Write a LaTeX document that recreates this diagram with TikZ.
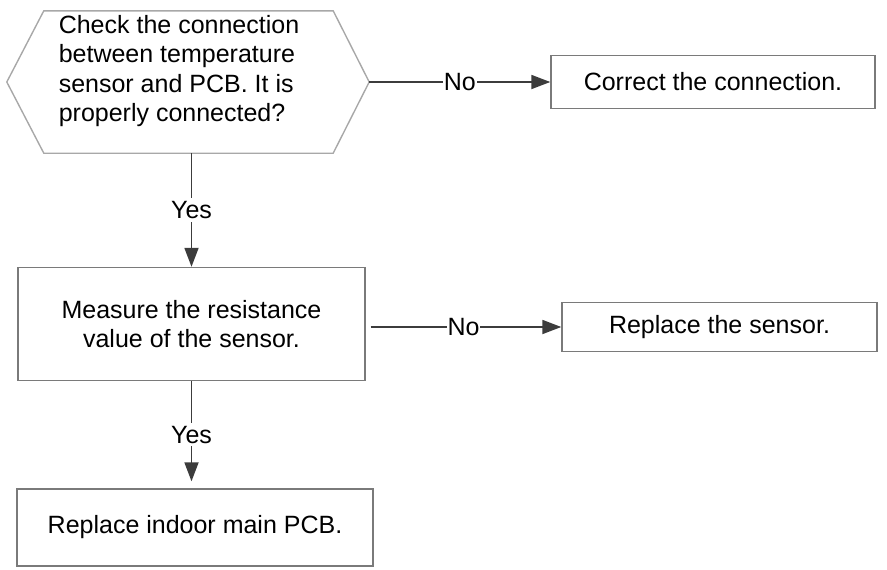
\documentclass[tikz,border=0pt]{standalone}
\usepackage{fontspec}
\setmainfont{Liberation Sans}
\usetikzlibrary{arrows.meta}
\definecolor{boxgray}{HTML}{7A7A7A}
\definecolor{hexgray}{HTML}{A8A8A8}
\definecolor{arrowgray}{HTML}{3C3C3C}
\begin{document}
\begin{tikzpicture}[x=1pt,y=-1pt,
  font=\fontsize{25}{29.5}\selectfont,
  stepbox/.style={draw=boxgray,line width=1.4pt,inner sep=0pt,align=center},
  flow/.style={arrowgray,line width=1.8pt,-{Triangle[length=19pt,width=14pt]}},
  answer/.style={fill=white,text=black,inner sep=1pt}]
\useasboundingbox (0,0) rectangle (887,570);

%decision
\node[minimum width=362pt,minimum height=142pt,inner sep=0pt] (check) at (188,82) {};
\draw[hexgray,line width=1.4pt] (check.west) -- ([xshift=37pt]check.north west) -- ([xshift=-36pt]check.north east) -- (check.east) -- ([xshift=-36pt]check.south east) -- ([xshift=37pt]check.south west) -- cycle;
\node[align=left,inner sep=0pt] (checktext) at (179,71) {Check the connection\\between temperature\\sensor and PCB. It is\\properly connected?};

%actions
\node[stepbox,minimum width=324pt,minimum height=53pt] (connect) at (713,82) {Correct the connection.};
\node[stepbox,minimum width=347pt,minimum height=113pt] (measure) at (191.5,324) {Measure the resistance\\value of the sensor.};
\node[stepbox,minimum width=315pt,minimum height=49pt] (sensor) at (719.5,327) {Replace the sensor.};
\node[stepbox,minimum width=356pt,minimum height=77pt] (pcb) at (195,527.5) {Replace indoor main PCB.};

%arrows
\draw[flow] (check.east) -- (connect.west) node[midway,answer] {No};
\draw[flow] (check.south -| measure.north) -- (measure.north) node[midway,answer,inner sep=3pt] {Yes};
\draw[flow,shorten <=5pt] (measure.east |- sensor.west) -- (sensor.west) node[midway,answer] {No};
\draw[flow,shorten >=7pt] (measure.south) -- (measure.south |- pcb.north) node[midway,answer,inner sep=3pt] {Yes};
\end{tikzpicture}
\end{document}
